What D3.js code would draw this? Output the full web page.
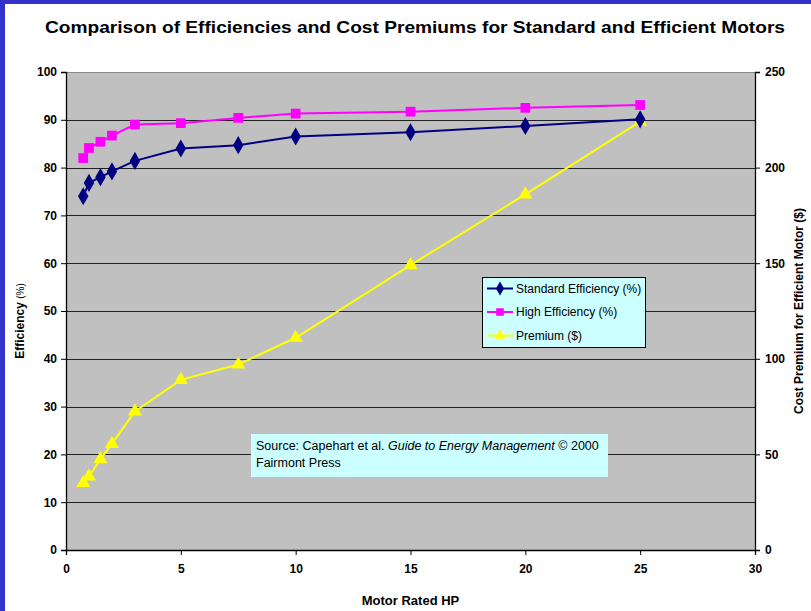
<!DOCTYPE html>
<meta charset="utf-8">

<head>
    <style>
        body { margin: 0; background: #fff; }
        text { font-family: 'Liberation Sans', Arial, sans-serif; }
        .tick-label { font-size: 12px; font-weight: 700; }
        .axis-title { font-size: 12px; font-weight: 700; text-anchor: middle; }
        .legend-label { font-size: 12px; }
        .note { font-size: 12.5px; }
    </style>
</head>

<script src="https://d3js.org/d3.v7.min.js"></script>

<div id="chart"></div>

<script>

    // motor sizes (HP) and the three series
    const hp = [0.75, 1, 1.5, 2, 3, 5, 7.5, 10, 15, 20, 25];
    const standardEff = [74, 76.8, 78, 79.2, 81.4, 84, 84.7, 86.5, 87.4, 88.7, 90.1];
    const highEff = [82, 84.1, 85.4, 86.7, 89, 89.3, 90.4, 91.3, 91.7, 92.5, 93.1];
    const premium = [35, 38.5, 47.5, 55.5, 72.5, 89, 97, 111, 149, 186, 224];

    const xTicks = [0, 5, 10, 15, 20, 25, 30];
    const leftTicks = [0, 10, 20, 30, 40, 50, 60, 70, 80, 90, 100];
    const rightTicks = [0, 50, 100, 150, 200, 250];

    const W = 811, H = 611;
    const margin = { top: 72, right: 56, bottom: 61, left: 66 },
        width = W - margin.left - margin.right,
        height = H - margin.top - margin.bottom;

    const root = d3.select("#chart").append("svg")
        .attr("width", W)
        .attr("height", H);

    // blue slide border on top and left
    root.append("rect").attr("x", 0).attr("y", 0).attr("width", W).attr("height", 4).attr("fill", "#3333cc");
    root.append("rect").attr("x", 0).attr("y", 0).attr("width", 5).attr("height", H).attr("fill", "#3333cc");

    root.append("text")
        .attr("x", 415)
        .attr("y", 33)
        .attr("text-anchor", "middle")
        .attr("textLength", 740)
        .attr("lengthAdjust", "spacingAndGlyphs")
        .style("font-size", "17px")
        .style("font-weight", 700)
        .text("Comparison of Efficiencies and Cost Premiums for Standard and Efficient Motors");

    const svg = root.append("g")
        .attr("transform", "translate(" + margin.left + "," + margin.top + ")");

    const x = d3.scaleLinear().domain([0, 30]).range([0, width]);
    const y = d3.scaleLinear().domain([0, 100]).range([height, 0]);
    const y2 = d3.scaleLinear().domain([0, 250]).range([height, 0]);

    // plot background
    svg.append("rect")
        .attr("width", width)
        .attr("height", height)
        .attr("fill", "#c0c0c0");

    // gridlines
    svg.append("g")
        .selectAll("line")
        .data(leftTicks.filter(d => d > 0))
        .enter().append("line")
        .attr("x1", 0).attr("x2", width)
        .attr("y1", d => Math.round(y(d)) + 0.5)
        .attr("y2", d => Math.round(y(d)) + 0.5)
        .attr("stroke", d => d === 100 ? "#8a8a8a" : "#222")
        .attr("stroke-width", 1);

    // axes
    const xAxis = svg.append("g")
        .attr("transform", "translate(0," + height + ")")
        .call(d3.axisBottom(x).tickValues(xTicks).tickSize(5).tickPadding(9))
        .attr("class", "tick-label");
    const yAxis = svg.append("g")
        .call(d3.axisLeft(y).tickValues(leftTicks).tickSize(5).tickPadding(4))
        .attr("class", "tick-label");
    const y2Axis = svg.append("g")
        .attr("transform", "translate(" + width + ",0)")
        .call(d3.axisRight(y2).tickValues(rightTicks).tickSize(5).tickPadding(5))
        .attr("class", "tick-label");
    [xAxis, yAxis, y2Axis].forEach(g => {
        g.attr("font-family", null).attr("font-size", null);
        g.select(".domain").attr("stroke", "#000").attr("stroke-width", 1.3);
        g.selectAll(".tick line").attr("stroke", "#000");
        g.selectAll(".tick text").attr("fill", "#000");
    });

    // series
    const series = [
        { name: "Standard Efficiency (%)", values: standardEff, scale: y, color: "#000080", symbol: d3.symbolDiamond, size: 95 },
        { name: "High Efficiency (%)", values: highEff, scale: y, color: "#ff00ff", symbol: d3.symbolSquare, size: 95 },
        { name: "Premium ($)", values: premium, scale: y2, color: "#ffff00", symbol: d3.symbolTriangle, size: 85 }
    ];

    series.slice().reverse().forEach(s => {
        const pts = hp.map((h, i) => [x(h), s.scale(s.values[i])]);
        svg.append("path")
            .attr("d", d3.line()(pts))
            .attr("fill", "none")
            .attr("stroke", s.color)
            .attr("stroke-width", 2);
        svg.append("g")
            .selectAll("path")
            .data(pts)
            .enter().append("path")
            .attr("transform", d => "translate(" + d[0] + "," + d[1] + ")")
            .attr("d", d3.symbol().type(s.symbol).size(s.size))
            .attr("fill", s.color);
    });

    // legend
    const legend = svg.append("g").attr("transform", "translate(416,205)");
    legend.append("rect")
        .attr("x", 0.5).attr("y", 0.5)
        .attr("width", 163).attr("height", 70)
        .attr("fill", "#ccffff")
        .attr("stroke", "#000");
    series.forEach((s, i) => {
        const row = legend.append("g").attr("transform", "translate(0," + (11.5 + i * 23.5) + ")");
        row.append("line")
            .attr("x1", 5).attr("x2", 31)
            .attr("stroke", s.color).attr("stroke-width", 2);
        row.append("path")
            .attr("transform", "translate(18,0)")
            .attr("d", d3.symbol().type(s.symbol).size(s.size * 0.6))
            .attr("fill", s.color);
        row.append("text")
            .attr("x", 34).attr("y", 4)
            .attr("class", "legend-label")
            .text(s.name);
    });

    // source note
    const note = svg.append("g").attr("transform", "translate(185,362)");
    note.append("rect")
        .attr("width", 357).attr("height", 43)
        .attr("fill", "#ccffff");
    const line1 = note.append("text").attr("x", 5).attr("y", 16).attr("class", "note");
    line1.append("tspan").text("Source: Capehart et al. ");
    line1.append("tspan").style("font-style", "italic").text("Guide to Energy Management");
    line1.append("tspan").text(" \u00a9 2000");
    note.append("text").attr("x", 5).attr("y", 33).attr("class", "note").text("Fairmont Press");

    // axis titles
    root.append("text")
        .attr("class", "axis-title")
        .style("font-size", "13px")
        .attr("x", margin.left + x(15))
        .attr("y", 605)
        .text("Motor Rated HP");

    const leftTitle = root.append("text")
        .attr("class", "axis-title")
        .attr("transform", "translate(24," + (margin.top + height / 2 + 10) + ") rotate(-90)");
    leftTitle.append("tspan").text("Efficiency ");
    leftTitle.append("tspan").style("font-weight", 400).style("font-size", "10px").text("(%)");

    root.append("text")
        .attr("class", "axis-title")
        .attr("transform", "translate(803," + (margin.top + height / 2) + ") rotate(-90)")
        .text("Cost Premium for Efficient Motor ($)");
</script>
